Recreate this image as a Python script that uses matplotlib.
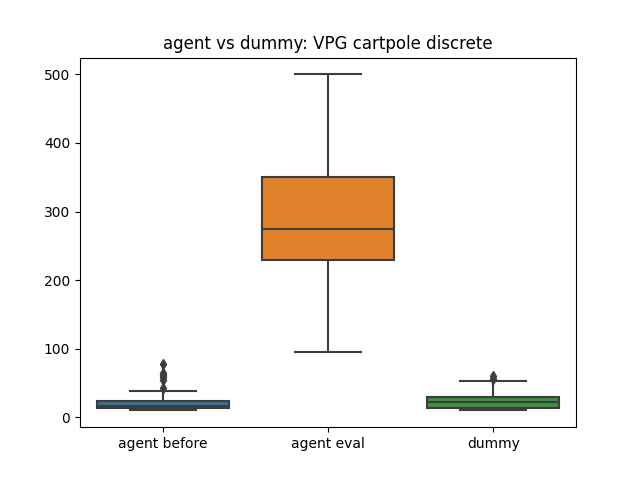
import pandas as pd
import seaborn as sns
import matplotlib
matplotlib.use('Agg')
import matplotlib.pyplot as plt

categories = ['agent before', 'agent eval', 'dummy']

agent_before = [10, 10, 11, 11, 12, 12, 12, 13, 14, 14, 15, 15, 16, 16, 17,
                18, 19, 20, 21, 22, 23, 24, 39, 42, 55, 58, 62, 65, 78]
agent_eval = [95, 130, 160, 185, 210, 229, 240, 250, 258, 266, 275, 290, 305,
              320, 338, 351, 380, 410, 440, 470, 500]
dummy = [11, 12, 12, 13, 13, 13, 14, 16, 17, 18, 19, 21, 22, 23, 25, 26, 27,
         28, 30, 34, 38, 44, 53, 56, 60]


def build_frame():
    rows = []
    for name, values in zip(categories, [agent_before, agent_eval, dummy]):
        for v in values:
            rows.append({'group': name, 'reward': v})
    return pd.DataFrame(rows)


def main():
    data = build_frame()
    gray = '#3d3d3d'
    fig, ax = plt.subplots(figsize=(6.4, 4.8), dpi=100)
    sns.boxplot(data=data, x='group', y='reward', hue='group',
                palette=sns.color_palette()[:3], legend=False, ax=ax,
                linecolor=gray, linewidth=1.5, fliersize=5,
                flierprops={'marker': 'd', 'markerfacecolor': gray,
                            'markeredgecolor': gray})
    ax.set_xlabel('')
    ax.set_ylabel('')
    ax.set_title('agent vs dummy: VPG cartpole discrete')
    fig.savefig('out.png')


if __name__ == '__main__':
    main()
